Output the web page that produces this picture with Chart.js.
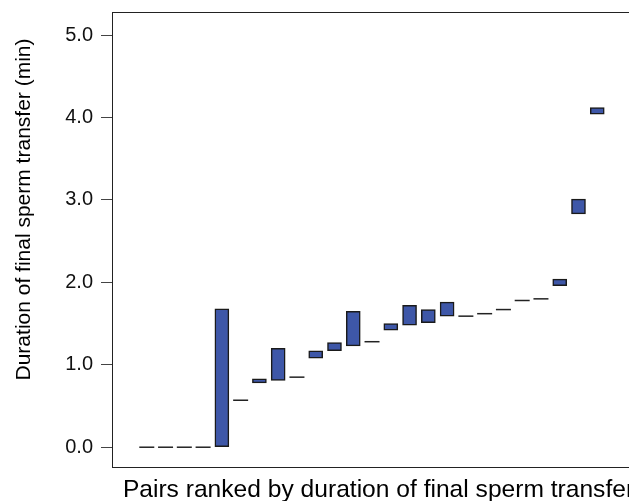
<!DOCTYPE html>
<html>
<head>
<meta charset="utf-8">
<script src="https://cdn.jsdelivr.net/npm/chart.js@4/dist/chart.umd.min.js"></script>
<style>
  html, body { margin: 0; padding: 0; background: #fff; overflow: hidden; width: 629px; height: 501px; }
  #wrap { position: absolute; left: 0; top: 0; width: 653px; height: 501px; }
</style>
</head>
<body>
<div id="wrap"><canvas id="c"></canvas></div>
<script>
// Pairs ranked by duration of final sperm transfer (1..25)
const pairs = [1,2,3,4,5,6,7,8,9,10,11,12,13,14,15,16,17,18,19,20,21,22,23,24,25];
// lower and upper bound of final sperm transfer duration (min)
const lowValues  = [0,0,0,0,0,   0.57,0.78,0.81,0.85,1.08,1.17,1.23,1.28,1.42,1.48,1.51,1.59,1.59,1.62,1.67,1.78,1.80,1.96,2.83,4.04];
const highValues = [0,0,0,0,1.68,0.57,0.83,1.20,0.85,1.17,1.27,1.65,1.28,1.50,1.72,1.67,1.76,1.59,1.62,1.67,1.78,1.80,2.04,3.01,4.12];
const yTicks = [0, 1, 2, 3, 4, 5];
const yTitle = 'Duration of final sperm transfer (min)';
const xTitle = 'Pairs ranked by duration of final sperm transfer';

const rangeData = [];
const pointData = [];
pairs.forEach((p, i) => {
  if (highValues[i] > lowValues[i]) rangeData.push({ x: p, y: [lowValues[i], highValues[i]] });
  else pointData.push({ x: p, y: lowValues[i] });
});

const FONT = "'Liberation Sans', Arial, Helvetica, sans-serif";

const framePlugin = {
  id: 'frameAndTitles',
  afterDraw(chart) {
    const { ctx, chartArea: a } = chart;
    ctx.save();
    ctx.strokeStyle = '#222';
    ctx.lineWidth = 1;
    ctx.strokeRect(a.left - 0.5, a.top + 0.5, a.right - a.left, a.bottom - a.top);
    ctx.fillStyle = '#000';
    // x title
    ctx.font = '24.6px ' + FONT;
    ctx.textAlign = 'center';
    ctx.textBaseline = 'alphabetic';
    ctx.fillText(xTitle, (a.left + a.right) / 2, 497);
    // y title
    ctx.font = '21px ' + FONT;
    ctx.translate(30, 209.5);
    ctx.rotate(-Math.PI / 2);
    ctx.textAlign = 'center';
    ctx.fillText(yTitle, 0, 0);
    ctx.restore();
  }
};

new Chart(document.getElementById('c'), {
  type: 'bar',
  data: {
    datasets: [
      {
        type: 'bar',
        data: rangeData,
        backgroundColor: '#3e57a8',
        borderColor: '#1a1a1a',
        borderWidth: 1.5,
        borderSkipped: false,
        barThickness: 14
      },
      {
        type: 'scatter',
        data: pointData,
        pointStyle: 'line',
        radius: 7.5,
        hoverRadius: 7.5,
        borderColor: '#222',
        borderWidth: 1.5
      }
    ]
  },
  options: {
    responsive: true,
    maintainAspectRatio: false,
    animation: false,
    events: [],
    layout: { padding: { top: 12, right: 5, bottom: 34, left: 0 } },
    plugins: { legend: { display: false }, tooltip: { enabled: false } },
    scales: {
      x: {
        type: 'linear',
        offset: false,
        min: -0.8,
        max: 27.49,
        display: false
      },
      y: {
        type: 'linear',
        min: -0.24,
        max: 5.28,
        afterBuildTicks: (s) => { s.ticks = yTicks.map(v => ({ value: v })); },
        afterFit: (s) => { s.width = 113; s.paddingTop = 0; s.paddingBottom = 0; },
        border: { display: false },
        grid: { drawOnChartArea: false, drawTicks: true, tickLength: 12, color: '#444', lineWidth: 1 },
        ticks: {
          padding: 8,
          color: '#111',
          font: { family: FONT, size: 20 },
          callback: (v) => Number(v).toFixed(1)
        }
      }
    }
  },
  plugins: [framePlugin]
});
</script>
</body>
</html>
